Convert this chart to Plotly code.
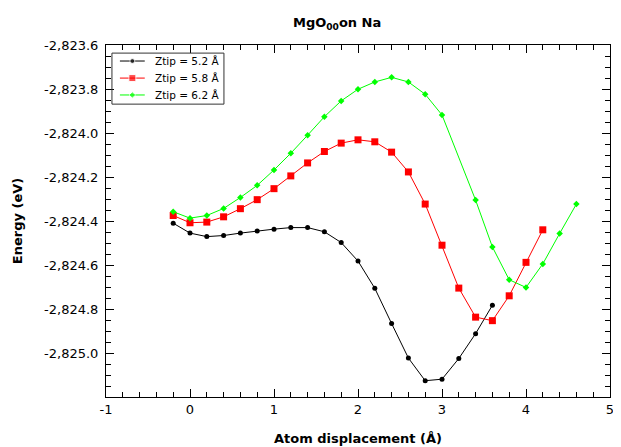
import plotly.graph_objects as go

x_black = [-0.2, 0.0, 0.2, 0.4, 0.6, 0.8, 1.0, 1.2, 1.4, 1.6, 1.8, 2.0, 2.2, 2.4, 2.6, 2.8, 3.0, 3.2, 3.4, 3.6]
y_black = [-2824.410, -2824.455, -2824.471, -2824.466, -2824.455, -2824.445, -2824.437, -2824.430,
           -2824.430, -2824.449, -2824.498, -2824.582, -2824.706, -2824.866, -2825.023, -2825.126,
           -2825.119, -2825.025, -2824.912, -2824.783]

x_red = [-0.2, 0.0, 0.2, 0.4, 0.6, 0.8, 1.0, 1.2, 1.4, 1.6, 1.8, 2.0, 2.2, 2.4, 2.6, 2.8, 3.0, 3.2,
         3.4, 3.6, 3.8, 4.0, 4.2]
y_red = [-2824.375, -2824.408, -2824.405, -2824.381, -2824.344, -2824.303, -2824.253, -2824.195,
         -2824.136, -2824.084, -2824.046, -2824.031, -2824.040, -2824.087, -2824.177, -2824.323,
         -2824.510, -2824.705, -2824.837, -2824.853, -2824.740, -2824.588, -2824.440]

x_green = [-0.2, 0.0, 0.2, 0.4, 0.6, 0.8, 1.0, 1.2, 1.4, 1.6, 1.8, 2.0, 2.2, 2.4, 2.6, 2.8, 3.0,
           3.4, 3.6, 3.8, 4.0, 4.2, 4.4, 4.6]
y_green = [-2824.358, -2824.387, -2824.375, -2824.343, -2824.293, -2824.238, -2824.168, -2824.092,
           -2824.010, -2823.926, -2823.854, -2823.801, -2823.768, -2823.747, -2823.768, -2823.824,
           -2823.918, -2824.305, -2824.518, -2824.667, -2824.702, -2824.595, -2824.457, -2824.323]

series_names = ["Ztip = 5.2 Å", "Ztip = 5.8 Å", "Ztip = 6.2 Å"]
series_colors = ["black", "#ff0000", "#00ff00"]
series_symbols = ["circle", "square", "diamond"]
series_sizes = [5, 7, 5]

y_tickvals = [-2823.6, -2823.8, -2824.0, -2824.2, -2824.4, -2824.6, -2824.8, -2825.0]
y_ticktext = ["-2,823.6", "-2,823.8", "-2,824.0", "-2,824.2", "-2,824.4", "-2,824.6", "-2,824.8", "-2,825.0"]
x_tickvals = [-1, 0, 1, 2, 3, 4, 5]
x_ticktext = ["-1", "0", "1", "2", "3", "4", "5"]

fig = go.Figure()
for xs, ys, name, col, sym, sz in zip([x_black, x_red, x_green], [y_black, y_red, y_green],
                                      series_names, series_colors, series_symbols, series_sizes):
    fig.add_trace(go.Scatter(x=xs, y=ys, mode="lines+markers", name=name, showlegend=False,
                             line=dict(color=col, width=1),
                             marker=dict(symbol=sym, size=sz, color=col)))

# Legend drawn in a fixed overlay axis (x2/y2 spanning the plot area, range 0..1)
leg_rows = [0.9545, 0.906, 0.858]
for name, col, sym, sz, yy in zip(series_names, series_colors, series_symbols, series_sizes, leg_rows):
    fig.add_trace(go.Scatter(x=[0.0276, 0.0523, 0.0769], y=[yy, yy, yy], xaxis="x2", yaxis="y2",
                             mode="lines+markers", showlegend=False, hoverinfo="skip",
                             line=dict(color=col, width=1),
                             marker=dict(symbol=sym, size=[0, sz, 0], color=col)))
    fig.add_annotation(x=0.0927, y=yy, xref="x2", yref="y2", text=name, showarrow=False,
                       xanchor="left", yanchor="middle", font=dict(size=10.5))
fig.add_shape(type="rect", xref="x2", yref="y2", x0=0.0118, x1=0.234, y0=0.832, y1=0.977,
              line=dict(color="#333333", width=1), fillcolor="rgba(0,0,0,0)", layer="above")

font = "DejaVu Sans"
fig.update_layout(
    width=621, height=447,
    margin=dict(l=98, r=19, t=37, b=58),
    paper_bgcolor="white", plot_bgcolor="white",
    font=dict(family=font, color="black", size=13),
    title=dict(text="<b>MgO<sub>00</sub>on Na</b>", x=0.530, xref="container", xanchor="center",
               y=0.968, yref="container", yanchor="middle", font=dict(size=13, family=font)),
    showlegend=False,
    xaxis2=dict(range=[0, 1], overlaying="x", visible=False, fixedrange=True),
    yaxis2=dict(range=[0, 1], overlaying="y", visible=False, fixedrange=True),
)
fig.update_layout(xaxis=dict(
    range=[-1, 5], tickvals=x_tickvals, ticktext=x_ticktext, automargin=False,
    ticklabeloverflow="allow",
    showgrid=False, zeroline=False, showline=True, linecolor="black", linewidth=1, mirror="ticks",
    ticks="inside", ticklen=8, tickcolor="black", tickwidth=1,
    minor=dict(ticks="inside", dtick=0.2, ticklen=5, tickcolor="black", tickwidth=1, showgrid=False),
    tickfont=dict(size=13),
    title=dict(text="<b>Atom displacement (Å)</b>", font=dict(size=13), standoff=18),
))
fig.update_layout(yaxis=dict(
    range=[-2825.2, -2823.6], tickvals=y_tickvals, ticktext=y_ticktext, automargin=False,
    ticklabeloverflow="allow",
    showgrid=False, zeroline=False, showline=True, linecolor="black", linewidth=1, mirror="ticks",
    ticks="inside", ticklen=8, tickcolor="black", tickwidth=1, ticklabelstandoff=4,
    minor=dict(ticks="inside", dtick=0.05, tick0=-2825.2, ticklen=5, tickcolor="black", tickwidth=1, showgrid=False),
    tickfont=dict(size=13),
    title=dict(text="<b>Energy (eV)</b>", font=dict(size=13), standoff=18),
))
fig.write_html("out.html")
